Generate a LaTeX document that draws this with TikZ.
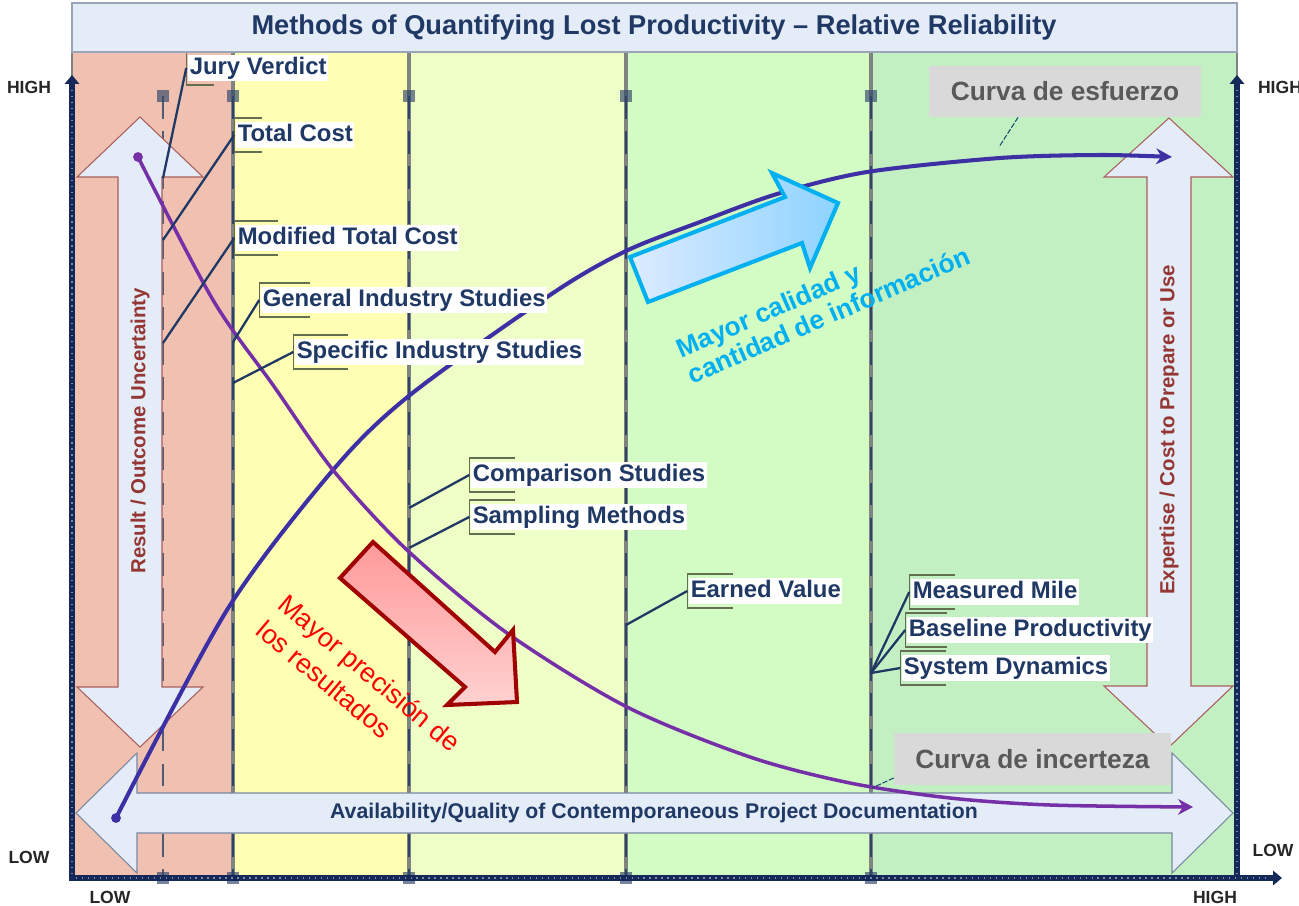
\documentclass[tikz,border=0pt]{standalone}
\usepackage{fontspec}
\setmainfont{Liberation Sans}
\usetikzlibrary{arrows.meta}
\definecolor{navy}{HTML}{1F3864}
\definecolor{salmon}{HTML}{F0C1B1}
\definecolor{lemon}{HTML}{FFFFB4}
\definecolor{lime}{HTML}{EFFDC7}
\definecolor{mint}{HTML}{D3FCC5}
\definecolor{leaf}{HTML}{C3F0C3}
\definecolor{paleblue}{HTML}{E4ECF7}
\definecolor{brick}{HTML}{943634}
\definecolor{effortcol}{HTML}{3C30A4}
\definecolor{uncertcol}{HTML}{7530A8}
\definecolor{skyline}{HTML}{00B0F0}
\definecolor{skylight}{HTML}{DDEBFF}
\definecolor{skydeep}{HTML}{8DD3FF}
\definecolor{darkred}{HTML}{A00000}
\definecolor{olivegray}{HTML}{646E50}
\definecolor{boxgray}{HTML}{D9D9D9}
\definecolor{textgray}{HTML}{595959}
\definecolor{sepgray}{HTML}{7F8480}
\definecolor{sepnavy}{HTML}{2F4468}
\definecolor{axisnavy}{HTML}{14285A}
\begin{document}
\begin{tikzpicture}[x=0.02cm, y=-0.02cm,
  tag/.style={fill=white, text=navy, anchor=west, inner xsep=0.8pt, inner ysep=1pt,
    text height=10pt, text depth=3pt, font=\bfseries\fontsize{13.6}{15}\selectfont},
  bracket/.style={draw=olivegray, line width=0.8pt},
  leader/.style={draw=navy, line width=1.3pt},
  bigarrow/.style={fill=paleblue, line width=0.6pt, line join=miter},
  curvebox/.style={fill=boxgray, text=textgray, inner sep=0pt, font=\bfseries\fontsize{15}{17}\selectfont},
  axisline/.style={draw=axisnavy, line width=3.4pt},
  axishatch/.style={draw=white!45!axisnavy, line width=0.9pt, dash pattern=on 0.8pt off 2.6pt},
  hilo/.style={text=black!85, font=\bfseries\fontsize{10}{12}\selectfont},
  vtext/.style={rotate=90, text=brick, font=\bfseries\fontsize{11.6}{13}\selectfont},
  pointer/.style={draw=navy!70!teal, line width=0.6pt, dash pattern=on 3pt off 1pt},
  marker/.style={fill=sepnavy, opacity=0.65}]
\useasboundingbox (0,0) rectangle (1299,906);
\fill[white] (0,0) rectangle (1299,906);

\fill[salmon] (72,52) rectangle (233,878);
\fill[lemon] (233,52) rectangle (409,878);
\fill[lime] (409,52) rectangle (626,878);
\fill[mint] (626,52) rectangle (871,878);
\fill[leaf] (871,52) rectangle (1237,878);
\draw[sepgray, line width=0.6pt] (72,52) rectangle (1237,878);

\foreach \x in {233,409,626,871}
  \draw[sepgray, line width=1.8pt] (\x,52) -- (\x,878);
\draw[sepnavy!60!gray, line width=1.6pt, dash pattern=on 13pt off 7pt] (163,96) -- (163,878);
\foreach \x in {233,409,626,871}
  \draw[sepnavy, line width=1.3pt, dash pattern=on 13pt off 7pt] (\x,96) -- (\x,878);
\foreach \x in {163,233,409,626,871} {
  \fill[marker] (\x-6,90) rectangle (\x+6,102);
  \fill[marker] (\x-6,872) rectangle (\x+6,884);
}

\draw[bigarrow, draw=brick!80] (140,117) -- (203,177) -- (162,177) -- (162,687) -- (203,687)
  -- (140,747) -- (77,687) -- (118,687) -- (118,177) -- (77,177) -- cycle;
\draw[bigarrow, draw=brick!80] (1169,118) -- (1233,177) -- (1191,177) -- (1191,686) -- (1233,686)
  -- (1169,747) -- (1104,686) -- (1147,686) -- (1147,177) -- (1104,177) -- cycle;
\draw[bigarrow, draw=navy!60] (76,813) -- (137,753) -- (137,793) -- (1172,793) -- (1172,753)
  -- (1233,813) -- (1172,873) -- (1172,833) -- (137,833) -- (137,873) -- cycle;
\node[vtext] (uncertainty) at (140,431) {Result / Outcome Uncertainty};
\node[vtext] (expertise) at (1169,430) {Expertise / Cost to Prepare or Use};
\node[text=navy, font=\bfseries\fontsize{12.1}{14}\selectfont] (documentation) at (654,813)
  {Availability/Quality of Contemporaneous Project Documentation};

\coordinate (effortStart) at (116,818);
\coordinate (uncertStart) at (138,157);
\draw[effortcol, line width=2.3pt, -{Stealth[length=9pt,width=9pt]}] plot[smooth] coordinates
  {(effortStart) (227,610) (333,470) (410,395) (553,293) (626,251) (700,222) (777,194) (867,172) (1000,158) (1100,155) (1172,157)};
\fill[effortcol] (effortStart) circle (2.8pt);
\draw[uncertcol, line width=2pt, -{Stealth[length=8.5pt,width=9pt]}] plot[smooth] coordinates
  {(uncertStart) (213,300) (273,385) (333,470) (407,550) (507,633) (627,707) (750,757) (850,783) (950,798) (1050,805) (1193,807)};
\fill[uncertcol] (uncertStart) circle (2.8pt);

\draw[skyline, line width=2.3pt, line join=miter, left color=skylight, right color=skydeep]
  (630,257) -- (785,197) -- (772,173) -- (838,203) -- (810,268) -- (802,243) -- (648,302) -- cycle;
\draw[darkred, line width=2.3pt, line join=miter, top color=red!40!white, bottom color=red!18!white]
  (373,542) -- (495,652) -- (513,630) -- (517,702) -- (447,705) -- (465,687) -- (340,578) -- cycle;
\node[rotate=23.5, align=left, text=skyline, font=\bfseries\fontsize{15}{16}\selectfont] (quality)
  at (823,302) {Mayor calidad y\\cantidad de información};
\node[rotate=-40, align=left, text=red, font=\fontsize{15.3}{19.4}\selectfont] (precision)
  at (359,686) {Mayor precisión de\\los resultados};

\node[tag] (jury) at (188,68) {Jury Verdict};
\node[tag] (total) at (236,135) {Total Cost};
\node[tag] (modified) at (236,238) {Modified Total Cost};
\node[tag] (general) at (261,300) {General Industry Studies};
\node[tag] (specific) at (295,352) {Specific Industry Studies};
\node[tag] (comparison) at (471,475) {Comparison Studies};
\node[tag] (sampling) at (471,517) {Sampling Methods};
\node[tag] (earned) at (689,591) {Earned Value};
\node[tag] (measured) at (911,592) {Measured Mile};
\node[tag] (baseline) at (907,630) {Baseline Productivity};
\node[tag] (system) at (902,668) {System Dynamics};
\foreach \n/\t in {jury/15, total/15, modified/24, general/28, specific/30, comparison/25,
    sampling/25, earned/25, measured/25, baseline/23, system/25}
  \draw[bracket] ([xshift=\t pt, yshift=9.7pt]\n.west) -- ([xshift=-1pt, yshift=9.7pt]\n.west)
    -- ([xshift=-1pt, yshift=-9.7pt]\n.west) -- ([xshift=\t pt, yshift=-9.7pt]\n.west);

\coordinate (juryPt) at (163,178);
\coordinate (totalPt) at (163,240);
\coordinate (modifiedPt) at (163,343);
\coordinate (generalPt) at (233,342);
\coordinate (specificPt) at (233,383);
\coordinate (comparisonPt) at (409,508);
\coordinate (samplingPt) at (409,548);
\coordinate (earnedPt) at (626,625);
\coordinate (dynamicsPt) at (871,673);
\foreach \n in {jury,total,modified,general,specific,comparison,sampling,earned}
  \draw[leader] ([xshift=-1pt]\n.west) -- (\n Pt);
\foreach \n in {measured,baseline,system}
  \draw[leader] ([xshift=-1pt]\n.west) -- (dynamicsPt);

\node[curvebox, minimum width=154.8pt, minimum height=29pt] (effortbox) at (1065,91.5) {Curva de esfuerzo};
\node[curvebox, minimum width=157.6pt, minimum height=29.6pt] (uncertbox) at (1032.5,759) {Curva de incerteza};
\coordinate (effortTouch) at (999,147);
\coordinate (uncertTouch) at (872,788);
\draw[pointer] ([xshift=-26.7pt]effortbox.south) -- (effortTouch);
\draw[pointer] ([yshift=-10.8pt]uncertbox.west) -- (uncertTouch);

\draw[axisline, -{Triangle[length=5pt,width=8pt]}] (72,881) -- (72,75);
\draw[axisline, -{Triangle[length=5pt,width=8pt]}] (1237,881) -- (1237,75);
\draw[axisline, -{Triangle[length=5pt,width=8pt]}] (70,878) -- (1282,878);
\draw[axishatch] (72,874) -- (72,90);
\draw[axishatch] (1237,874) -- (1237,90);
\draw[axishatch] (76,878) -- (1268,878);
\node[hilo] (highLeft) at (29,87) {HIGH};
\node[hilo] (lowLeft) at (29,857) {LOW};
\node[hilo] (lowBottom) at (110,897) {LOW};
\node[hilo] (highBottom) at (1215,897) {HIGH};
\node[hilo] (highRight) at (1280,87) {HIGH};
\node[hilo] (lowRight) at (1273,850) {LOW};

\draw[fill=paleblue, draw=navy!45, line width=0.8pt] (72,3) rectangle (1237,52);
\node[text=navy, font=\bfseries\fontsize{15.5}{18}\selectfont] (title) at (654,28)
  {Methods of Quantifying Lost Productivity – Relative Reliability};
\end{tikzpicture}
\end{document}
